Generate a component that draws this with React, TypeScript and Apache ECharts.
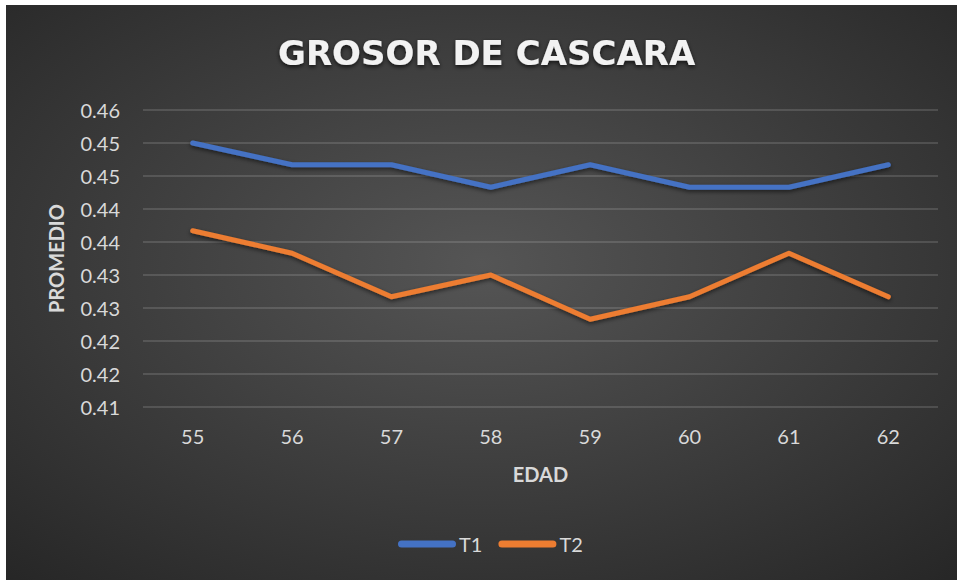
import React, { useEffect, useRef } from "react";
import * as echarts from "echarts";

const categories = ["55", "56", "57", "58", "59", "60", "61", "62"];
const t1Values = [0.45, 0.4467, 0.4467, 0.4433, 0.4467, 0.4433, 0.4433, 0.4467];
const t2Values = [0.4367, 0.4333, 0.4267, 0.43, 0.4233, 0.4267, 0.4333, 0.4267];
const yTickLabels = ["0.41", "0.42", "0.42", "0.43", "0.43", "0.44", "0.44", "0.45", "0.45", "0.46"];
const yMin = 0.41;
const yMax = 0.455;
const yInterval = 0.005;

const FONT = "Lato, 'Open Sans', sans-serif";
const LEGEND_ICON =
  "path://M3.5,0 L54.5,0 A3.5,3.5 0 0 1 54.5,7 L3.5,7 A3.5,3.5 0 0 1 3.5,0 Z";

export default function App() {
  const ref = useRef<HTMLDivElement>(null);
  useEffect(() => {
    if (!ref.current) return;
    const chart = echarts.init(ref.current, null, { renderer: "svg" });
    const lineStyle = (color: string) => ({
      color,
      width: 5,
      cap: "round" as const,
      join: "round" as const,
      shadowColor: "rgba(0,0,0,0.55)",
      shadowBlur: 4,
      shadowOffsetY: 2,
    });
    chart.setOption({
      animation: false,
      backgroundColor: {
        type: "radial",
        x: 0.5,
        y: 0.45,
        r: 0.75,
        colorStops: [
          { offset: 0, color: "#555555" },
          { offset: 1, color: "#262626" },
        ],
      },
      title: {
        text: "GROSOR DE CASCARA",
        left: 267,
        top: 26,
        textStyle: {
          fontFamily: "'DejaVu Sans', sans-serif",
          fontSize: 34,
          fontWeight: "bold",
          color: "#f2f2f2",
          textShadowColor: "rgba(0,0,0,0.7)",
          textShadowBlur: 4,
          textShadowOffsetY: 2,
        },
      },
      legend: {
        left: 387,
        top: 524,
        itemWidth: 58,
        itemHeight: 7,
        itemGap: 16,
        icon: LEGEND_ICON,
        textStyle: { fontFamily: FONT, fontSize: 20, color: "#d9d9d9", padding: [0, 0, 0, -2] },
        data: ["T1", "T2"],
      },
      grid: { left: 137, right: 19, top: 105, bottom: 173, containLabel: false },
      xAxis: {
        type: "category",
        data: categories,
        boundaryGap: true,
        axisLine: { show: false },
        axisTick: { show: false },
        axisLabel: { fontFamily: FONT, fontSize: 20, color: "#d9d9d9", margin: 19 },
        name: "EDAD",
        nameLocation: "middle",
        nameGap: 57,
        nameTextStyle: { fontFamily: FONT, fontSize: 20, fontWeight: "bold", color: "#d9d9d9" },
      },
      yAxis: {
        type: "value",
        min: yMin,
        max: yMax,
        interval: yInterval,
        axisLine: { show: false },
        axisTick: { show: false },
        splitLine: { lineStyle: { color: "rgba(217,217,217,0.22)", width: 1.5 } },
        axisLabel: {
          fontFamily: FONT,
          fontSize: 20,
          color: "#d9d9d9",
          margin: 23,
          formatter: (v: number) => yTickLabels[Math.round((v - yMin) / yInterval)] ?? "",
        },
        name: "PROMEDIO",
        nameLocation: "middle",
        nameGap: 77,
        nameRotate: 90,
        nameTextStyle: { fontFamily: FONT, fontSize: 20, fontWeight: "bold", color: "#d9d9d9" },
      },
      series: [
        {
          name: "T1",
          type: "line",
          data: t1Values,
          showSymbol: false,
          symbol: "none",
          itemStyle: { color: "#4472C4" },
          lineStyle: lineStyle("#4472C4"),
        },
        {
          name: "T2",
          type: "line",
          data: t2Values,
          showSymbol: false,
          symbol: "none",
          itemStyle: { color: "#ED7D31" },
          lineStyle: lineStyle("#ED7D31"),
        },
      ],
    });
    return () => chart.dispose();
  }, []);
  return (
    <div
      ref={ref}
      style={{ position: "absolute", left: 6, top: 5, width: 951, height: 575 }}
    />
  );
}
